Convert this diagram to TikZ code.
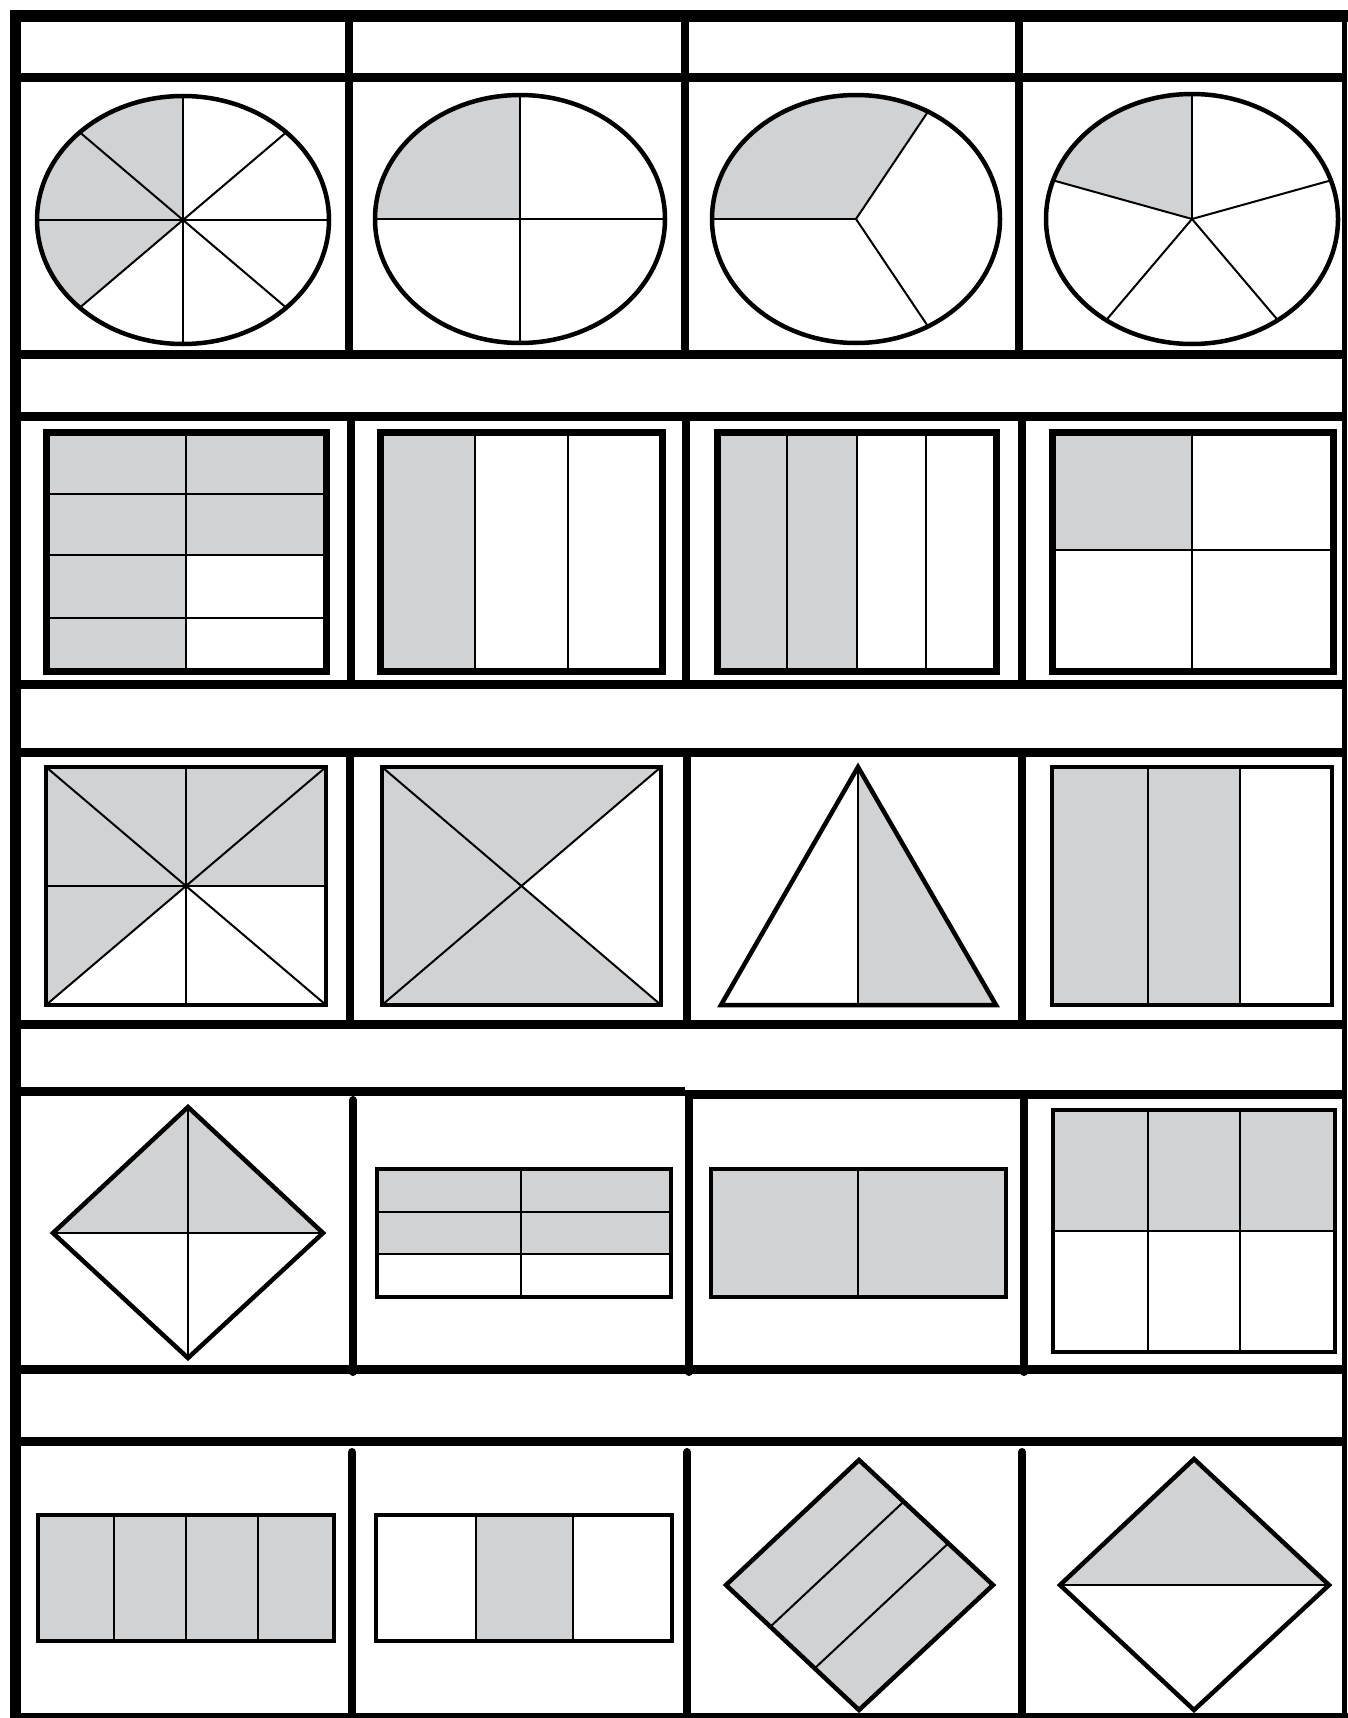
\documentclass[tikz,border=0pt]{standalone}
\usetikzlibrary{calc}
\definecolor{shadegray}{RGB}{209,210,212}
\begin{document}
\begin{tikzpicture}[x=1pt,y=-1pt,
  gridh/.style={line width=9pt},
  gridv/.style={line width=8pt},
  outline/.style={line width=4.5pt},
  heavyoutline/.style={line width=7pt},
  part/.style={line width=2pt},
  shaded/.style={fill=shadegray}]
\useasboundingbox (0,0) rectangle (1348,1718);
\fill[white] (0,0) rectangle (1348,1718);

% ---------- grid ----------
\foreach \y in {78,354,416,684,752,1024,1369,1441} \draw[gridh] (15,\y) -- (1344,\y);
\draw[gridh] (15,1091) -- (685,1091);
\draw[gridh] (685,1094) -- (1344,1094);
\draw[gridh] (10,1717) -- (1348,1717);
\draw[line width=12pt] (10,16) -- (1348,16);
\draw[line width=11pt] (15,10) -- (15,1718);
\draw[line width=5pt] (1344,16) -- (1344,1718);

\foreach \x in {349,685,1019} \draw[gridv] (\x,16) -- (\x,354);
\foreach \x in {351,686,1022} \draw[gridv] (\x,416) -- (\x,684);
\foreach \x in {350,687,1022} \draw[gridv] (\x,752) -- (\x,1024);
\draw[gridv,line cap=round] (353,1100) -- (353,1372);
\foreach \x in {689,1024} \draw[gridv,line cap=round] (\x,1094) -- (\x,1372);
\foreach \x in {352,687,1022} \draw[gridv,line cap=round] (\x,1452) -- (\x,1716);

% ---------- row 1: ellipses ----------
% eighths
\fill[shaded] (183,220) -- ++(-90:146 and 124) arc[start angle=-90, end angle=-225, x radius=146, y radius=124] -- cycle;
\foreach \a in {0,45,...,315} \draw[part] (183,220) -- ++(\a:146 and 124);
\draw[outline] (183,220) ellipse[x radius=146, y radius=124];
% quarters
\fill[shaded] (520,219) -- ++(-90:145 and 124) arc[start angle=-90, end angle=-180, x radius=145, y radius=124] -- cycle;
\foreach \a in {0,90,180,270} \draw[part] (520,219) -- ++(\a:145 and 124);
\draw[outline] (520,219) ellipse[x radius=145, y radius=124];
% thirds
\fill[shaded] (856,219) -- ++(-60:144 and 124) arc[start angle=-60, end angle=-180, x radius=144, y radius=124] -- cycle;
\foreach \a in {60,180,300} \draw[part] (856,219) -- ++(\a:144 and 124);
\draw[outline] (856,219) ellipse[x radius=144, y radius=124];
% fifths
\fill[shaded] (1192,219) -- ++(-90:146 and 125) arc[start angle=-90, end angle=-162, x radius=146, y radius=125] -- cycle;
\foreach \a in {-90,-162,-234,-306,-18} \draw[part] (1192,219) -- ++(\a:146 and 125);
\draw[outline] (1192,219) ellipse[x radius=146, y radius=125];

% ---------- row 2: rectangles ----------
\fill[shaded] (46,432) rectangle (186,671);
\fill[shaded] (186,432) rectangle (326,555);
\draw[part] (186,432) -- (186,671);
\foreach \y in {494,555,618} \draw[part] (46,\y) -- (326,\y);
\draw[heavyoutline] (46,432) rectangle (326,671);

\fill[shaded] (380,432) rectangle (475,671);
\foreach \x in {475,568} \draw[part] (\x,432) -- (\x,671);
\draw[heavyoutline] (380,432) rectangle (662,671);

\fill[shaded] (717,432) rectangle (857,671);
\foreach \x in {787,857,926} \draw[part] (\x,432) -- (\x,671);
\draw[heavyoutline] (717,432) rectangle (996,671);

\fill[shaded] (1052,432) rectangle (1192,550);
\draw[part] (1192,432) -- (1192,671);
\draw[part] (1052,550) -- (1333,550);
\draw[heavyoutline] (1052,432) rectangle (1333,671);

% ---------- row 3 ----------
\fill[shaded] (46,767) -- (326,767) -- (326,886) -- (186,886) -- (46,1005) -- cycle;
\draw[part] (186,767) -- (186,1005);
\draw[part] (46,886) -- (326,886);
\draw[part] (46,767) -- (326,1005);
\draw[part] (326,767) -- (46,1005);
\draw[outline] (46,767) rectangle (326,1005);

\fill[shaded] (382,767) -- (661,767) -- (521,886) -- (661,1005) -- (382,1005) -- cycle;
\draw[part] (382,767) -- (661,1005);
\draw[part] (661,767) -- (382,1005);
\draw[outline] (382,767) rectangle (661,1005);

\fill[shaded] (858,767) -- (858,1005) -- (996,1005) -- cycle;
\draw[part] (858,767) -- (858,1005);
\draw[outline,line join=miter] (858,767) -- (721,1005) -- (996,1005) -- cycle;

\fill[shaded] (1052,767) rectangle (1240,1005);
\foreach \x in {1148,1240} \draw[part] (\x,767) -- (\x,1005);
\draw[outline] (1052,767) rectangle (1332,1005);

% ---------- row 4 ----------
\fill[shaded] (188,1107) -- (323,1233) -- (53,1233) -- cycle;
\draw[part] (188,1107) -- (188,1358);
\draw[part] (53,1233) -- (323,1233);
\draw[outline] (188,1107) -- (323,1233) -- (188,1358) -- (53,1233) -- cycle;

\fill[shaded] (377,1169) rectangle (671,1254);
\draw[part] (521,1169) -- (521,1297);
\foreach \y in {1212,1254} \draw[part] (377,\y) -- (671,\y);
\draw[outline] (377,1169) rectangle (671,1297);

\fill[shaded] (711,1169) rectangle (1006,1297);
\draw[part] (858,1169) -- (858,1297);
\draw[outline] (711,1169) rectangle (1006,1297);

\fill[shaded] (1053,1110) rectangle (1335,1231);
\foreach \x in {1148,1240} \draw[part] (\x,1110) -- (\x,1352);
\draw[part] (1053,1231) -- (1335,1231);
\draw[outline] (1053,1110) rectangle (1335,1352);

% ---------- row 5 ----------
\fill[shaded] (38,1515) rectangle (334,1641);
\foreach \x in {114,186,258} \draw[part] (\x,1515) -- (\x,1641);
\draw[outline] (38,1515) rectangle (334,1641);

\fill[shaded] (476,1515) rectangle (573,1641);
\foreach \x in {476,573} \draw[part] (\x,1515) -- (\x,1641);
\draw[outline] (376,1515) rectangle (672,1641);

\coordinate (dT) at (859,1460);
\coordinate (dR) at (993,1585);
\coordinate (dB) at (859,1710);
\coordinate (dL) at (726,1585);
\fill[shaded] (dT) -- (dR) -- (dB) -- (dL) -- cycle;
\draw[part] ($(dT)!1/3!(dR)$) -- ($(dL)!1/3!(dB)$);
\draw[part] ($(dT)!2/3!(dR)$) -- ($(dL)!2/3!(dB)$);
\draw[outline] (dT) -- (dR) -- (dB) -- (dL) -- cycle;

\fill[shaded] (1194,1459) -- (1329,1585) -- (1060,1585) -- cycle;
\draw[part] (1060,1585) -- (1329,1585);
\draw[outline] (1194,1459) -- (1329,1585) -- (1194,1710) -- (1060,1585) -- cycle;
\end{tikzpicture}
\end{document}
